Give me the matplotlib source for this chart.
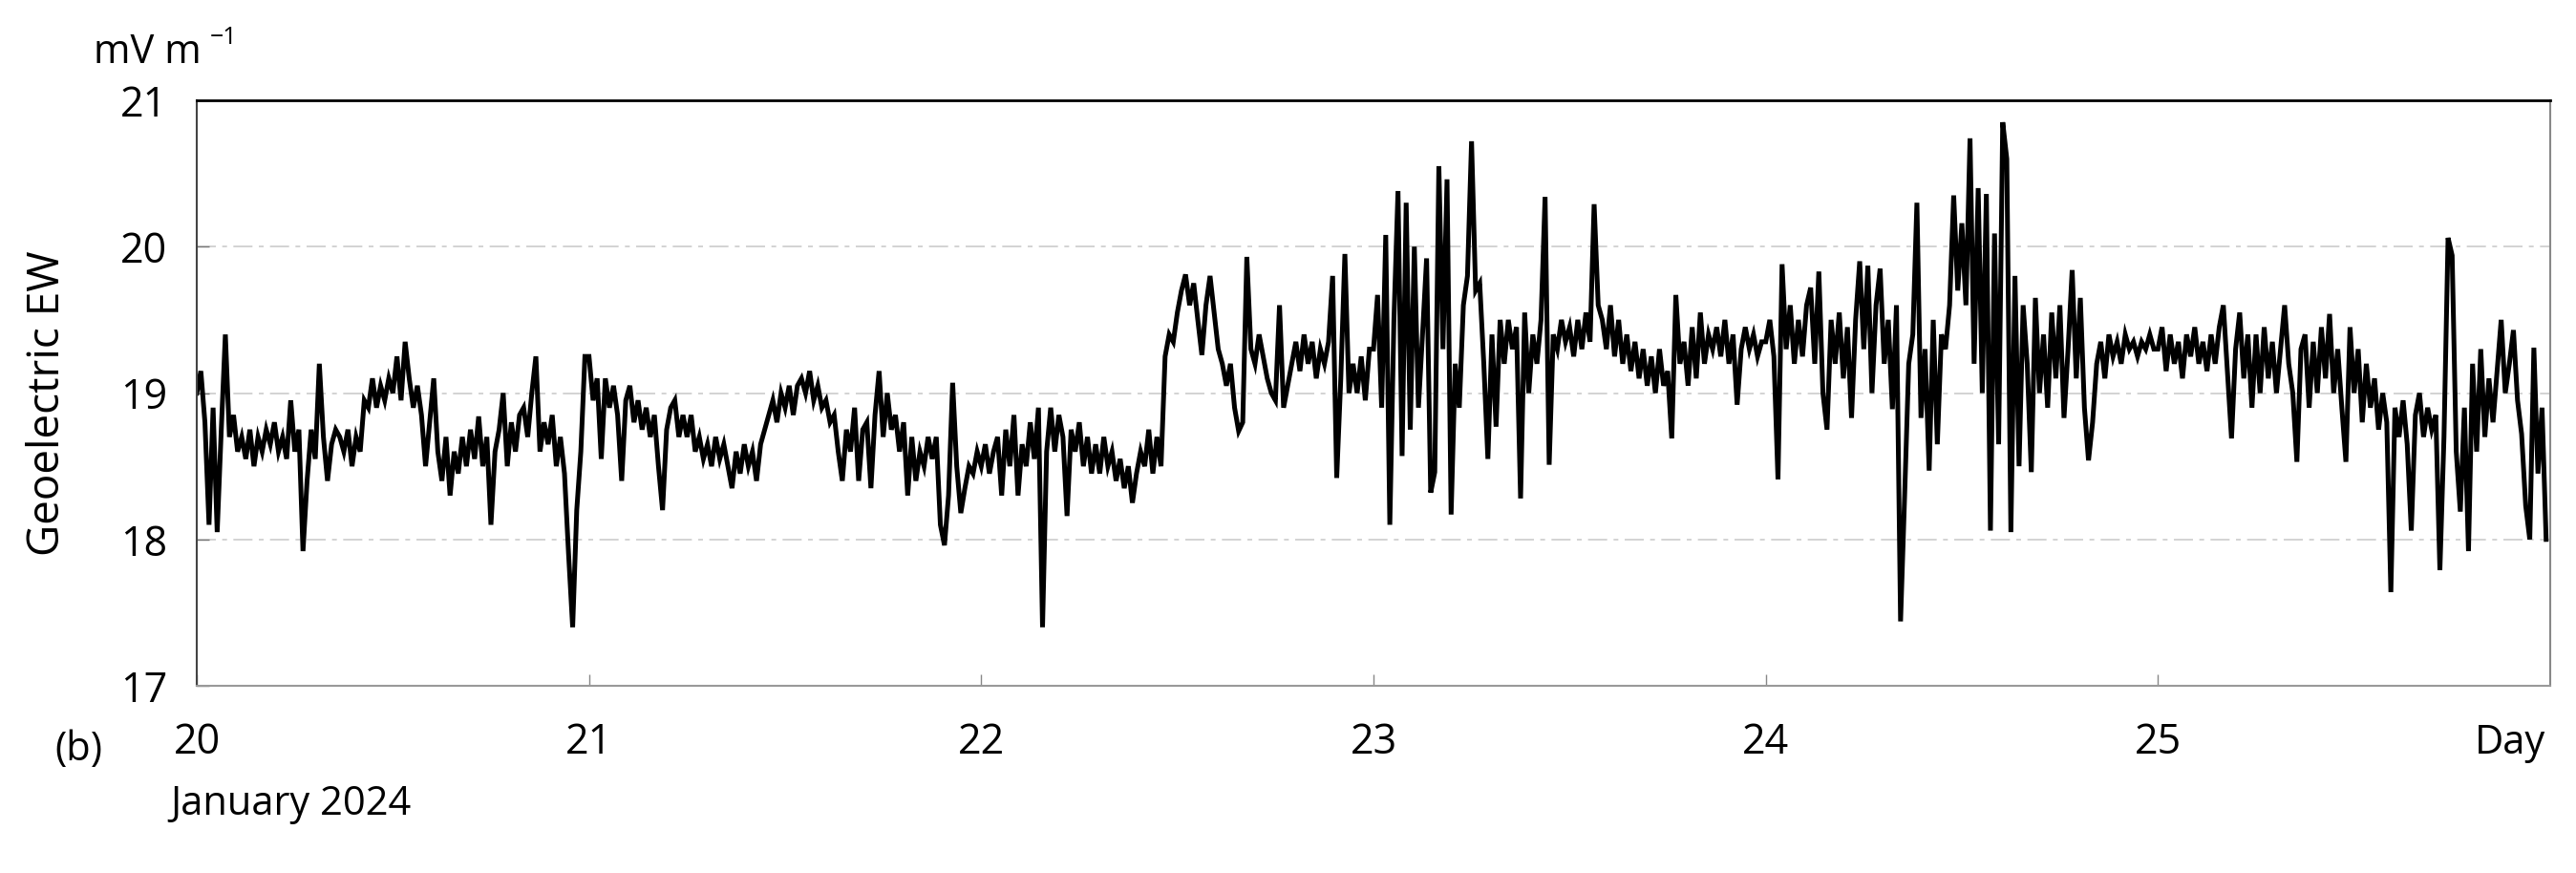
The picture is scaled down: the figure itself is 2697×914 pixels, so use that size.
import numpy as np
import matplotlib.pyplot as plt

plt.rcParams['font.family'] = ['Open Sans', 'DejaVu Sans']

# geoelectric EW field, 15-minute samples, one list per day (mV/m)
day20 = [19.0, 19.15, 18.8, 18.1, 18.9, 18.05, 18.75, 19.4,
         18.7, 18.85, 18.6, 18.7, 18.55, 18.75, 18.5, 18.7,
         18.6, 18.75, 18.65, 18.8, 18.6, 18.7, 18.55, 18.95,
         18.6, 18.75, 17.92, 18.4, 18.75, 18.55, 19.2, 18.7,
         18.4, 18.65, 18.75, 18.7, 18.6, 18.75, 18.5, 18.7,
         18.6, 18.95, 18.9, 19.1, 18.9, 19.05, 18.95, 19.1,
         19.0, 19.25, 18.95, 19.35, 19.1, 18.9, 19.05, 18.85,
         18.5, 18.8, 19.1, 18.6, 18.4, 18.7, 18.3, 18.6,
         18.45, 18.7, 18.5, 18.75, 18.55, 18.84, 18.5, 18.7,
         18.1, 18.6, 18.75, 19.0, 18.5, 18.8, 18.6, 18.85,
         18.9, 18.7, 19.0, 19.25, 18.6, 18.8, 18.65, 18.85,
         18.5, 18.7, 18.45, 17.9, 17.4, 18.2, 18.6, 19.25]
day21 = [19.25, 18.95, 19.1, 18.55, 19.1, 18.9, 19.05, 18.85,
         18.4, 18.95, 19.05, 18.8, 18.95, 18.75, 18.9, 18.7,
         18.85, 18.5, 18.2, 18.75, 18.9, 18.95, 18.7, 18.85,
         18.7, 18.85, 18.6, 18.7, 18.55, 18.65, 18.5, 18.7,
         18.55, 18.65, 18.5, 18.35, 18.6, 18.45, 18.65, 18.5,
         18.6, 18.4, 18.65, 18.75, 18.85, 18.95, 18.8, 19.0,
         18.9, 19.05, 18.85, 19.05, 19.1, 19.0, 19.15, 18.95,
         19.05, 18.9, 18.95, 18.8, 18.85, 18.6, 18.4, 18.75,
         18.6, 18.9, 18.4, 18.75, 18.8, 18.35, 18.85, 19.15,
         18.7, 19.0, 18.75, 18.85, 18.6, 18.8, 18.3, 18.7,
         18.4, 18.6, 18.5, 18.7, 18.55, 18.7, 18.1, 17.96,
         18.3, 19.07, 18.5, 18.18, 18.35, 18.5, 18.45, 18.6]
day22 = [18.5, 18.65, 18.45, 18.6, 18.7, 18.3, 18.75, 18.5,
         18.85, 18.3, 18.65, 18.5, 18.8, 18.55, 18.9, 17.4,
         18.6, 18.9, 18.6, 18.85, 18.7, 18.16, 18.75, 18.6,
         18.8, 18.5, 18.7, 18.45, 18.65, 18.45, 18.7, 18.5,
         18.6, 18.4, 18.55, 18.35, 18.5, 18.25, 18.45, 18.6,
         18.5, 18.75, 18.45, 18.7, 18.5, 19.25, 19.4, 19.35,
         19.55, 19.7, 19.81, 19.6, 19.75, 19.5, 19.26, 19.6,
         19.8, 19.55, 19.3, 19.2, 19.05, 19.2, 18.9, 18.74,
         18.8, 19.93, 19.3, 19.2, 19.4, 19.25, 19.1, 19.0,
         18.95, 19.6, 18.9, 19.05, 19.2, 19.35, 19.15, 19.4,
         19.2, 19.35, 19.1, 19.3, 19.2, 19.35, 19.8, 18.42,
         19.1, 19.95, 19.0, 19.2, 19.0, 19.25, 18.95, 19.3]
day23 = [19.3, 19.67, 18.9, 20.08, 18.1, 19.5, 20.38, 18.57,
         20.3, 18.75, 20.0, 18.9, 19.4, 19.92, 18.32, 18.46,
         20.55, 19.3, 20.46, 18.17, 19.2, 18.9, 19.6, 19.8,
         20.72, 19.7, 19.75, 19.2, 18.55, 19.4, 18.77, 19.5,
         19.2, 19.5, 19.3, 19.45, 18.28, 19.55, 19.0, 19.4,
         19.2, 19.5, 20.34, 18.51, 19.4, 19.3, 19.5, 19.35,
         19.45, 19.25, 19.5, 19.3, 19.55, 19.35, 20.29, 19.6,
         19.5, 19.3, 19.6, 19.25, 19.5, 19.2, 19.4, 19.15,
         19.35, 19.1, 19.3, 19.05, 19.25, 19.0, 19.3, 19.05,
         19.15, 18.69, 19.67, 19.2, 19.35, 19.05, 19.45, 19.1,
         19.55, 19.2, 19.4, 19.3, 19.45, 19.25, 19.5, 19.2,
         19.4, 18.92, 19.3, 19.45, 19.3, 19.4, 19.25, 19.35]
day24 = [19.35, 19.5, 19.25, 18.41, 19.88, 19.3, 19.6, 19.2,
         19.5, 19.25, 19.6, 19.72, 19.2, 19.83, 19.0, 18.75,
         19.5, 19.2, 19.55, 19.1, 19.45, 18.83, 19.5, 19.9,
         19.3, 19.87, 19.0, 19.6, 19.85, 19.2, 19.5, 18.89,
         19.6, 17.44, 18.3, 19.2, 19.4, 20.3, 18.83, 19.3,
         18.47, 19.5, 18.65, 19.4, 19.3, 19.6, 20.35, 19.7,
         20.16, 19.6, 20.74, 19.2, 20.4, 19.0, 20.36, 18.06,
         20.09, 18.65, 20.85, 20.6, 18.05, 19.8, 18.5, 19.6,
         19.2, 18.46, 19.65, 19.0, 19.4, 18.9, 19.55, 19.1,
         19.6, 18.83, 19.3, 19.84, 19.1, 19.65, 18.9, 18.54,
         18.8, 19.2, 19.35, 19.1, 19.4, 19.25, 19.35, 19.2,
         19.4, 19.3, 19.35, 19.25, 19.35, 19.3, 19.4, 19.3]
day25 = [19.3, 19.45, 19.15, 19.4, 19.2, 19.35, 19.1, 19.4,
         19.25, 19.45, 19.2, 19.35, 19.15, 19.4, 19.2, 19.45,
         19.6, 19.15, 18.69, 19.3, 19.55, 19.1, 19.4, 18.9,
         19.4, 19.0, 19.45, 19.1, 19.35, 19.0, 19.3, 19.6,
         19.2, 19.0, 18.53, 19.3, 19.4, 18.9, 19.35, 19.0,
         19.45, 19.1, 19.54, 19.0, 19.3, 18.9, 18.53, 19.45,
         19.0, 19.3, 18.8, 19.2, 18.9, 19.1, 18.75, 19.0,
         18.8, 17.64, 18.9, 18.7, 18.95, 18.65, 18.06, 18.85,
         19.0, 18.7, 18.9, 18.75, 18.85, 17.79, 18.7, 20.06,
         19.94, 18.6, 18.19, 18.9, 17.92, 19.2, 18.6, 19.3,
         18.7, 19.1, 18.8, 19.15, 19.5, 19.0, 19.2, 19.43,
         18.95, 18.72, 18.23, 18.0, 19.31, 18.45, 18.9, 18.0]

day_ticks = [20, 21, 22, 23, 24, 25]

ew = np.array(day20 + day21 + day22 + day23 + day24 + day25)
t = 20 + np.arange(len(ew)) / 96.0

W, H = 2697, 914
fig = plt.figure(figsize=(W / 100, H / 100), dpi=100)
ax = fig.add_axes([206 / W, 1 - 718 / H, (2670 - 206) / W, (718 - 105) / H])

ax.plot(t, ew, color='black', lw=3.6, solid_joinstyle='miter')

ax.set_xlim(20, 26)
ax.set_ylim(17, 21)
ax.set_xticks(day_ticks)
ax.set_xticklabels([str(d) for d in day_ticks])
ax.set_yticks([17, 18, 19, 20, 21])
ax.tick_params(axis='x', direction='in', length=9, width=1, color='#888888',
               labelsize=31, pad=27)
ax.tick_params(axis='y', direction='in', length=9, width=1, color='#777777',
               labelsize=31, pad=22)
ax.grid(axis='y', color='#cccccc', lw=1.2, linestyle=(0, (12, 4, 3, 4)))

ax.spines['top'].set_linewidth(2)
ax.spines['top'].set_color('black')
ax.spines['left'].set_color('#444444')
ax.spines['left'].set_linewidth(1.5)
ax.spines['bottom'].set_color('#999999')
ax.spines['bottom'].set_linewidth(1.5)
ax.spines['right'].set_color('#888888')
ax.spines['right'].set_linewidth(1.5)

fig.text(50 / W, 1 - 422 / H, 'Geoelectric EW', fontsize=33, rotation=90,
         ha='center', va='center')
fig.text(98 / W, 1 - 55 / H, 'mV m', fontsize=30, ha='left', va='center')
fig.text(220 / W, 1 - 40 / H, '\u22121', fontsize=18, ha='left', va='center')
fig.text(82 / W, 1 - 785 / H, '(b)', fontsize=30, ha='center', va='center')
fig.text(178 / W, 1 - 842 / H, 'January 2024', fontsize=30, ha='left', va='center')
fig.text(2665 / W, 1 - 778 / H, 'Day', fontsize=30, ha='right', va='center')

fig.savefig('out.png', dpi=100)
